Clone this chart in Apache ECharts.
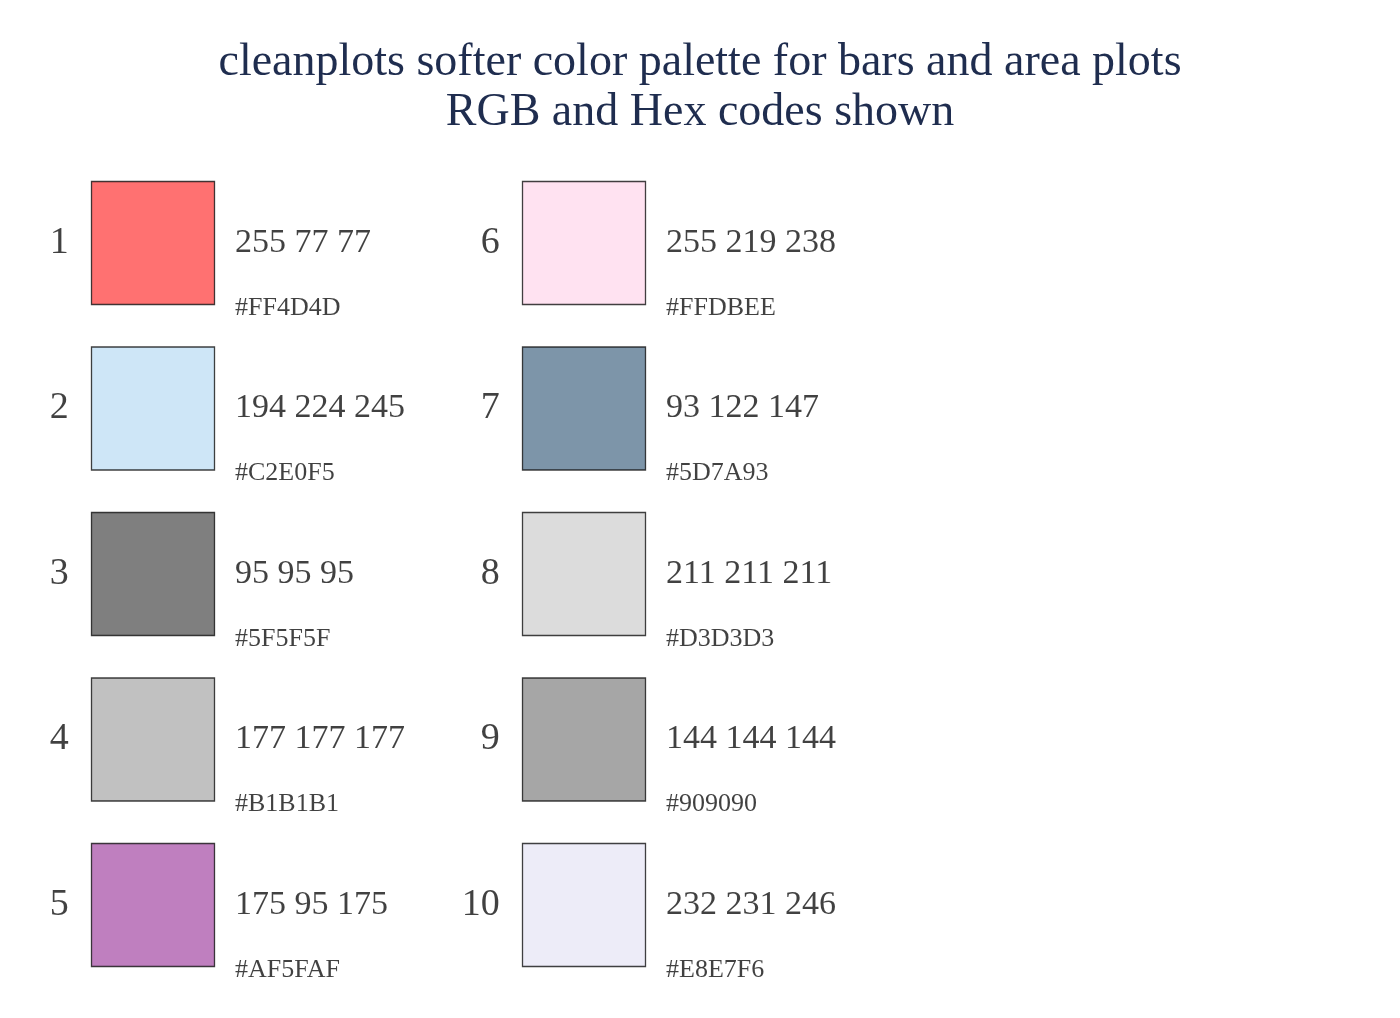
<!DOCTYPE html>
<html><head><meta charset="utf-8">
<script src="https://cdn.jsdelivr.net/npm/echarts@6/dist/echarts.min.js"></script>
<style>html,body{margin:0;padding:0;background:#fff}#c{width:1400px;height:1018px}</style>
</head><body><div id="c"></div>
<script>
const numbers = [1,2,3,4,5,6,7,8,9,10];
const rgbCodes = ['255 77 77','194 224 245','95 95 95','177 177 177','175 95 175','255 219 238','93 122 147','211 211 211','144 144 144','232 231 246'];
const hexCodes = ['#FF4D4D','#C2E0F5','#5F5F5F','#B1B1B1','#AF5FAF','#FFDBEE','#5D7A93','#D3D3D3','#909090','#E8E7F6'];
const F = 'Liberation Serif';
const pts = numbers.map((n,i)=>({value:[Math.floor(i/5), i%5], idx:i}));
const chart = echarts.init(document.getElementById('c'));
chart.setOption({
  backgroundColor:'#fff', animation:false,
  title:{text:'cleanplots softer color palette for bars and area plots\nRGB and Hex codes shown',
    left:'center', top:33, textStyle:{fontFamily:F,fontWeight:'normal',fontSize:46,color:'#1f2d4f',lineHeight:50}},
  grid:{left:0,top:0,width:1400,height:1018},
  xAxis:{type:'value',min:-153/431,max:-153/431+1400/431,show:false},
  yAxis:{type:'value',inverse:true,min:-243/165.5,max:-243/165.5+1018/165.5,show:false},
  series:[
    {type:'scatter',symbol:'rect',symbolSize:123,
     data:pts.map(p=>({value:p.value,itemStyle:{color:hexCodes[p.idx],borderColor:'#111',borderWidth:1.3},
       label:{formatter:String(numbers[p.idx])}})),
     label:{show:true,position:'left',distance:22,fontFamily:F,fontSize:38,color:'#111'}},
    {type:'scatter',symbolSize:0,silent:true,
     data:pts.map(p=>({value:p.value,label:{formatter:rgbCodes[p.idx]}})),
     label:{show:true,position:'inside',align:'left',offset:[82,0],fontFamily:F,fontSize:34,color:'#111'}},
    {type:'scatter',symbolSize:0,silent:true,
     data:pts.map(p=>({value:p.value,label:{formatter:hexCodes[p.idx]}})),
     label:{show:true,position:'inside',align:'left',offset:[82,65],fontFamily:F,fontSize:26,color:'#111'}}
  ]
});
</script></body></html>
